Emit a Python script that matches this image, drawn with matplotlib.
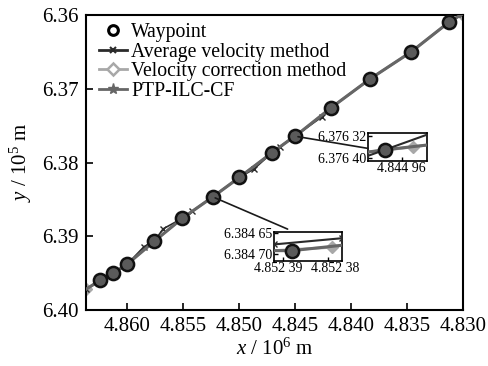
import matplotlib
matplotlib.use("Agg")
import matplotlib.pyplot as plt
import matplotlib.transforms as mtransforms
from matplotlib.patches import ConnectionPatch

plt.rcParams['font.family'] = ['Liberation Serif', 'DejaVu Serif']
plt.rcParams['mathtext.fontset'] = 'custom'
plt.rcParams['mathtext.rm'] = 'Liberation Serif'
plt.rcParams['mathtext.it'] = 'Liberation Serif:italic'

# Waypoints (x in 1e6 m, y in 1e5 m)
way_x = [4.86241, 4.86125, 4.86000, 4.85759, 4.85509, 4.852388, 4.85000,
         4.84705, 4.84498, 4.84179, 4.83830, 4.83464, 4.83125]
way_y = [6.39595, 6.39500, 6.39378, 6.39068, 6.38757, 6.384693, 6.38203,
         6.37865, 6.37637, 6.37257, 6.36865, 6.36500, 6.36095]

# Average velocity method trajectory
avg_x = [4.8637, 4.86241, 4.86125, 4.86000, 4.8585, 4.85759, 4.8568, 4.85509,
         4.8542, 4.852392, 4.852377, 4.85000, 4.8487, 4.84705, 4.8464, 4.84498,
         4.8426, 4.84179, 4.83830, 4.83464, 4.83125, 4.8301]
avg_y = [6.3972, 6.39595, 6.39500, 6.39378, 6.3914, 6.39068, 6.3890, 6.38757,
         6.3866, 6.384678, 6.384663, 6.38203, 6.3809, 6.37865, 6.3779, 6.37637,
         6.3738, 6.37257, 6.36865, 6.36500, 6.36095, 6.3599]

# Velocity correction method trajectory
vc_x = [4.8637, 4.86241, 4.86125, 4.86000, 4.85759, 4.85509, 4.852392, 4.8523793,
        4.852377, 4.85000, 4.84705, 4.84500, 4.844947, 4.84493, 4.84179, 4.83830,
        4.83464, 4.83125, 4.8301]
vc_y = [6.3972, 6.39595, 6.39500, 6.39378, 6.39068, 6.38757, 6.384693, 6.384685,
        6.38468, 6.38203, 6.37865, 6.376378, 6.37636, 6.376353, 6.37257, 6.36865,
        6.36500, 6.36095, 6.3599]

# PTP-ILC-CF trajectory
ptp_x = [4.8637, 4.86241, 4.86125, 4.86000, 4.85759, 4.85509, 4.852392, 4.852388,
         4.852377, 4.85000, 4.84705, 4.84500, 4.84498, 4.84493, 4.84179, 4.83830,
         4.83464, 4.83125, 4.8301]
ptp_y = [6.3972, 6.39595, 6.39500, 6.39378, 6.39068, 6.38757, 6.384693, 6.384693,
         6.38468, 6.38203, 6.37865, 6.376378, 6.37637, 6.376353, 6.37257, 6.36865,
         6.36500, 6.36095, 6.3599]

x_ticks = [4.860, 4.855, 4.850, 4.845, 4.840, 4.835, 4.830]
y_ticks = [6.36, 6.37, 6.38, 6.39, 6.40]

c_avg = '#2a2a2a'
c_vc = '#a8a8a8'
c_ptp = '#666666'

fig = plt.figure(figsize=(4.88, 3.66), dpi=100)
ax = fig.add_axes([0.176, 0.153, 0.773, 0.806])


def draw(a, inset=False):
    a.plot(vc_x, vc_y, '-', color=c_vc, lw=2.0, marker='D', ms=6.5,
           mfc=c_vc, mec=c_vc, markevery=[0, len(vc_x) - 1, 7, 12], zorder=2)
    a.plot(ptp_x, ptp_y, '-', color=c_ptp, lw=2.2, zorder=3)
    a.plot(avg_x, avg_y, '-', color=c_avg, lw=1.2 if not inset else 1.5,
           marker='x', ms=4, mew=1.0, zorder=4 if inset else 2.5)
    a.plot(way_x, way_y, 'o', ms=9.5, mfc='#5a5a5a', mec='#111111',
           mew=1.8, zorder=5, linestyle='none')


draw(ax)
# legend handles
h_way, = ax.plot([], [], 'o', ms=7, mfc='none', mec='black', mew=2.2)
h_avg, = ax.plot([], [], '-', color=c_avg, lw=2, marker='x', ms=5, mew=1.5)
h_vc, = ax.plot([], [], '-', color=c_vc, lw=2, marker='D', ms=6, mfc='white',
                mec=c_vc, mew=1.8)
h_ptp, = ax.plot([], [], '-', color=c_ptp, lw=2, marker='*', ms=8)
ax.legend([h_way, h_avg, h_vc, h_ptp],
          ['Waypoint', 'Average velocity method', 'Velocity correction method',
           'PTP-ILC-CF'], loc='upper left', bbox_to_anchor=(0.0, 1.015),
          frameon=False, fontsize=14.2, handlelength=1.45, handletextpad=0.2,
          labelspacing=0.02, borderaxespad=0.25)

ax.set_xlim(4.8637, 4.8300)
ax.set_ylim(6.40, 6.36)
ax.set_xticks(x_ticks)
ax.set_xticklabels([f'{v:.3f}' for v in x_ticks])
ax.set_yticks(y_ticks)
ax.set_yticklabels([f'{v:.2f}' for v in y_ticks])
ax.tick_params(direction='in', length=5, width=1.2, labelsize=15, pad=5)
for s in ax.spines.values():
    s.set_linewidth(1.5)
ax.set_xlabel('$x$ / 10$^6$ m', fontsize=15, labelpad=2)
ax.set_ylabel('$y$ / 10$^5$ m', fontsize=15, labelpad=6)

# Inset 1
ax1 = fig.add_axes([368 / 488, 1 - 161 / 366, 59 / 488, 28 / 366])
draw(ax1, inset=True)
ax1.set_xlim(4.84500, 4.84493)
ax1.set_ylim(6.37641, 6.37631)
ax1.set_xticks([4.84496])
ax1.set_xticklabels(['4.844 96'])
ax1.set_yticks([6.37632, 6.37640])
ax1.set_yticklabels(['6.376 32', '6.376 40'])
ax1.tick_params(direction='in', length=3, width=1, labelsize=10, pad=1)
for s in ax1.spines.values():
    s.set_linewidth(1.2)

# Inset 2
ax2 = fig.add_axes([274 / 488, 1 - 261 / 366, 68 / 488, 29 / 366])
draw(ax2, inset=True)
ax2.set_xlim(4.852392, 4.852377)
ax2.set_ylim(6.384718, 6.384648)
ax2.set_xticks([4.85239, 4.85238])
ax2.set_xticklabels(['4.852 39', '4.852 38'])
ax2.set_yticks([6.38465, 6.38470])
ax2.set_yticklabels(['6.384 65', '6.384 70'])
ax2.tick_params(direction='in', length=3, width=1, labelsize=10, pad=1)
for s in ax2.spines.values():
    s.set_linewidth(1.2)
for lab, dx in zip(ax2.get_xticklabels(), [-5, 7]):
    lab.set_transform(lab.get_transform() +
                      mtransforms.ScaledTranslation(dx / 100, 0, fig.dpi_scale_trans))

# connector lines
con1 = ConnectionPatch(xyA=(4.84475, 6.37650), coordsA=ax.transData,
                       xyB=(0.0, 0.45), coordsB=ax1.transAxes,
                       color='#1a1a1a', lw=1.2, zorder=10)
fig.add_artist(con1)
con2 = ConnectionPatch(xyA=(4.85215, 6.38480), coordsA=ax.transData,
                       xyB=(0.2, 1.1), coordsB=ax2.transAxes,
                       color='#1a1a1a', lw=1.2, zorder=10)
fig.add_artist(con2)

fig.savefig('out.png', dpi=100)
